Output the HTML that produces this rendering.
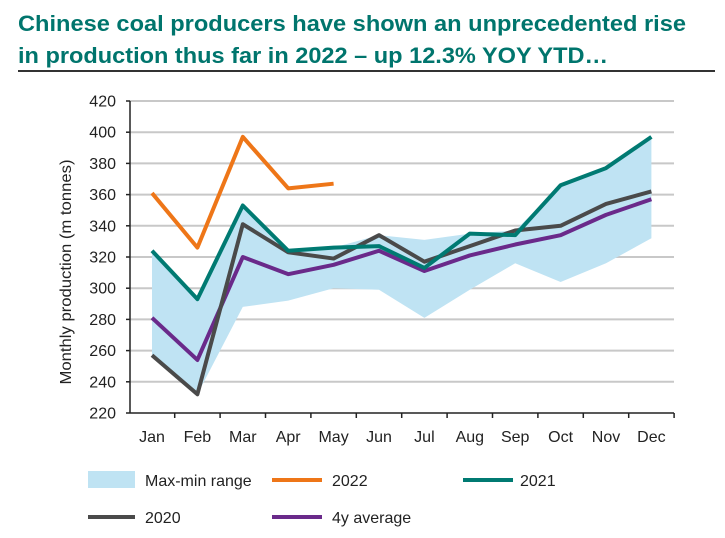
<!DOCTYPE html>
<html><head><meta charset="utf-8"><style>
body{margin:0;background:#fff;}
svg{display:block;font-family:"Liberation Sans",Arial,sans-serif;}
</style></head><body>
<svg id="chart" width="725" height="538" viewBox="0 0 725 538">
<text x="18" y="31" font-size="22" font-weight="bold" fill="#00756d" textLength="668" lengthAdjust="spacingAndGlyphs">Chinese coal producers have shown an unprecedented rise</text>
<text x="18" y="63" font-size="22" font-weight="bold" fill="#00756d" textLength="590" lengthAdjust="spacingAndGlyphs">in production thus far in 2022 – up 12.3% YOY YTD…</text>
<line x1="18" y1="71" x2="715" y2="71" stroke="#333" stroke-width="2"/>
<g id="grid"></g>
<g id="marks"></g>
<g id="axes"></g>
<text transform="translate(71,272) rotate(-90)" text-anchor="middle" font-size="16" fill="#222" textLength="225" lengthAdjust="spacingAndGlyphs">Monthly production (m tonnes)</text>
<g>
<rect x="88" y="471" width="47" height="17" fill="#bfe3f3"/>
<text x="145" y="486" font-size="16" fill="#222">Max-min range</text>
<line x1="272" y1="480" x2="322" y2="480" stroke="#ee7618" stroke-width="4"/>
<text x="332" y="486" font-size="16" fill="#222">2022</text>
<line x1="463" y1="480" x2="513" y2="480" stroke="#007a72" stroke-width="4"/>
<text x="520" y="486" font-size="16" fill="#222">2021</text>
<line x1="88" y1="517" x2="135" y2="517" stroke="#4a4a4a" stroke-width="4"/>
<text x="145" y="523" font-size="16" fill="#222">2020</text>
<line x1="272" y1="517" x2="322" y2="517" stroke="#6a2a8a" stroke-width="4"/>
<text x="332" y="523" font-size="16" fill="#222">4y average</text>
</g>
</svg>
<script>
const months=["Jan","Feb","Mar","Apr","May","Jun","Jul","Aug","Sep","Oct","Nov","Dec"];
const yTicks=[220,240,260,280,300,320,340,360,380,400,420];
const rangeMax=[324,293,353,324,326,334,331,335,337,366,377,397];
const rangeMin=[257,232,288,292,300,299,281,299,316,304,316,332];
const s2022=[361,326,397,364,367];
const s2021=[324,293,353,324,326,327,313,335,334,366,377,397];
const s2020=[257,232,341,323,319,334,317,327,337,340,354,362];
const s4y=[281,254,320,309,315,324,311,321,328,334,347,357];
const NS="http://www.w3.org/2000/svg";
const X0=130,X1=674,Y0=413,Y1=101;
function xs(i){return 152+i*45.4;}
function ys(v){return Y0-(v-220)/200*(Y0-Y1);}
function mk(t,a,p){const e=document.createElementNS(NS,t);for(const k in a)e.setAttribute(k,a[k]);p.appendChild(e);return e;}
const grid=document.getElementById('grid'),marks=document.getElementById('marks'),axes=document.getElementById('axes');
yTicks.forEach(v=>{
 if(v>220){const g=mk('line',{x1:X0,x2:X1,y1:ys(v),y2:ys(v),stroke:'#c8c8c8','stroke-width':2},grid);
 
 }
 const t=mk('text',{x:116,y:ys(v)+5.5,'text-anchor':'end','font-size':16,fill:'#222'},axes);t.textContent=v;
 
 
 mk('line',{x1:X0-4,x2:X0,y1:ys(v),y2:ys(v),stroke:'#222','stroke-width':1.5},axes);
});
const ax=mk('line',{x1:X0,x2:X0,y1:Y1,y2:Y0,stroke:'#222','stroke-width':1.5},axes);


const bx=mk('line',{x1:X0,x2:X1,y1:Y0,y2:Y0,stroke:'#222','stroke-width':1.5},axes);


months.forEach((m,i)=>{
 const t=mk('text',{x:xs(i),y:442,'text-anchor':'middle','font-size':16,fill:'#222'},axes);t.textContent=m;
 
 
 mk('line',{x1:xs(i)+22.7,x2:xs(i)+22.7,y1:Y0,y2:Y0+5,stroke:'#222','stroke-width':1.5},axes);
});
let pts=rangeMax.map((v,i)=>xs(i)+','+ys(v)).concat(rangeMin.map((v,i)=>xs(i)+','+ys(v)).reverse());
const area=mk('polygon',{points:pts.join(' '),fill:'#bfe3f3'},marks);


function line(arr,col,name){const l=mk('polyline',{points:arr.map((v,i)=>xs(i)+','+ys(v)).join(' '),fill:'none',stroke:col,'stroke-width':4,'stroke-linejoin':'round'},marks);
 
 }
line(s4y,'#6a2a8a','series-4y-average');
line(s2020,'#4a4a4a','series-2020');
line(s2021,'#007a72','series-2021');
line(s2022,'#ee7618','series-2022');
</script>
</body></html>
